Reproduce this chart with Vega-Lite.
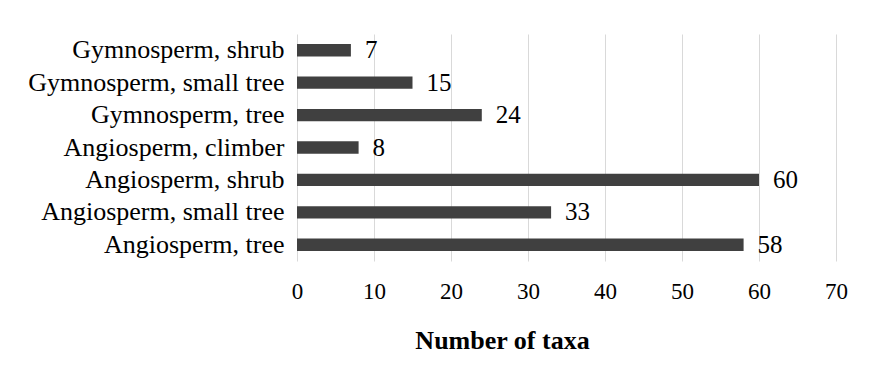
{
  "$schema": "https://vega.github.io/schema/vega-lite/v6.json",
  "width": 539,
  "height": 227,
  "autosize": {"type": "none"},
  "padding": {"left": 297, "top": 34, "right": 37, "bottom": 109},
  "background": "white",
  "config": {
    "view": {"stroke": null},
    "font": "Liberation Serif"
  },
  "data": {
    "values": [
      {"category": "Gymnosperm, shrub", "taxa": 7},
      {"category": "Gymnosperm, small tree", "taxa": 15},
      {"category": "Gymnosperm, tree", "taxa": 24},
      {"category": "Angiosperm, climber", "taxa": 8},
      {"category": "Angiosperm, shrub", "taxa": 60},
      {"category": "Angiosperm, small tree", "taxa": 33},
      {"category": "Angiosperm, tree", "taxa": 58}
    ]
  },
  "encoding": {
    "y": {
      "field": "category",
      "type": "nominal",
      "sort": null,
      "scale": {"paddingInner": 0.62, "paddingOuter": 0.31},
      "axis": {
        "title": null,
        "domain": false,
        "ticks": false,
        "labelFontSize": 26,
        "labelLimit": 0,
        "labelColor": "#000000",
        "labelPadding": 13,
        "labelFont": "Liberation Serif"
      }
    },
    "x": {
      "field": "taxa",
      "type": "quantitative",
      "scale": {"domain": [0, 70], "nice": false},
      "axis": {
        "values": [0, 10, 20, 30, 40, 50, 60, 70],
        "title": "Number of taxa",
        "titleFontSize": 26,
        "titleFontWeight": "bold",
        "titleColor": "#000000",
        "titlePadding": 24,
        "titleX": 205,
        "titleAnchor": null,
        "titleAlign": "center",
        "titleFont": "Liberation Serif",
        "domain": false,
        "ticks": false,
        "grid": true,
        "gridColor": "#d9d9d9",
        "labelFontSize": 23,
        "labelFlush": false,
        "labelColor": "#000000",
        "labelPadding": 19,
        "labelFont": "Liberation Serif"
      }
    }
  },
  "layer": [
    {"mark": {"type": "bar", "color": "#404040"}},
    {
      "mark": {"type": "text", "align": "left", "baseline": "middle", "dx": 14, "fontSize": 25, "color": "#000000", "font": "Liberation Serif"},
      "encoding": {"text": {"field": "taxa", "type": "quantitative"}}
    }
  ]
}
